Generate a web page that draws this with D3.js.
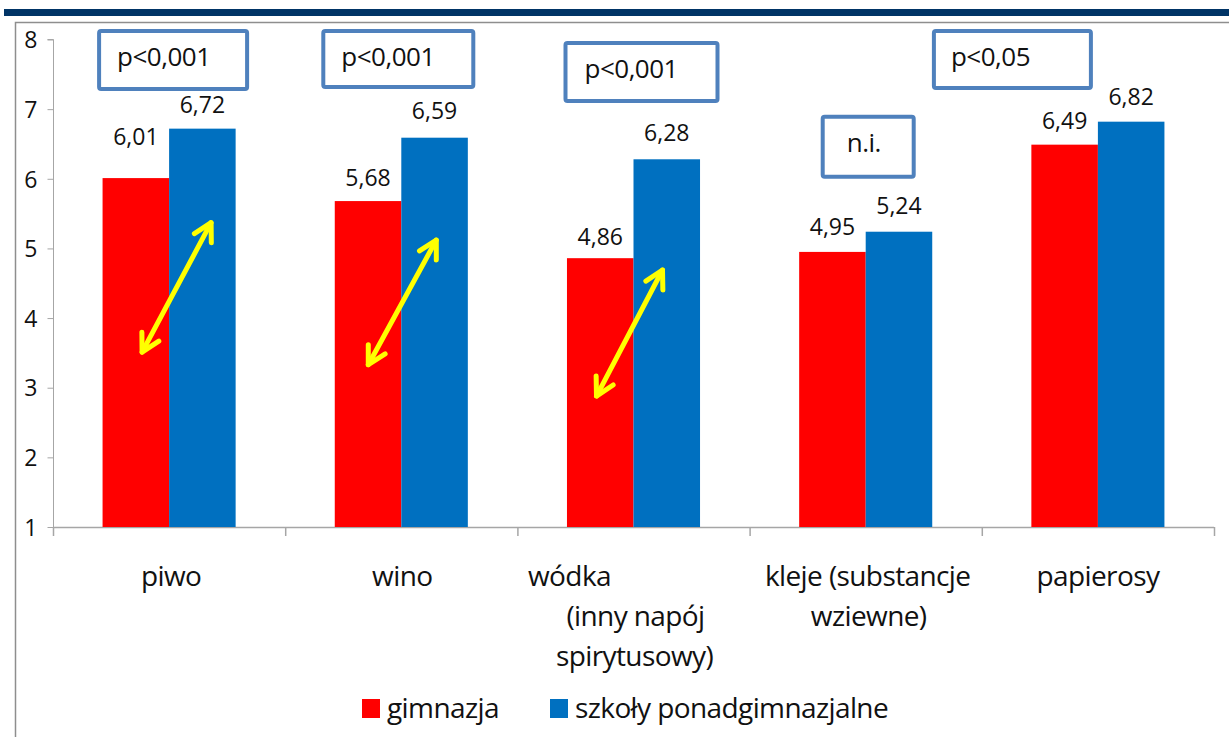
<!DOCTYPE html>
<html>
<head>
<meta charset="utf-8">
<script src="https://cdn.jsdelivr.net/npm/d3@7"></script>
<style>
  html, body { margin: 0; padding: 0; background: #fff; }
  svg { display: block; }
  text { font-family: "Open Sans", "Noto Sans", sans-serif; fill: #111; }
</style>
</head>
<body>
<svg id="chart" width="1229" height="737"></svg>
<script>
// --- data ---------------------------------------------------------------
const categories = ["piwo", "wino", "wódka", "kleje", "papierosy"];
const categoryLines = [
  ["piwo"],
  ["wino"],
  ["wódka", "(inny napój", "spirytusowy)"],
  ["kleje (substancje", "wziewne)"],
  ["papierosy"]
];
const seriesNames = ["gimnazja", "szkoły ponadgimnazjalne"];
const gimnazja = [6.01, 5.68, 4.86, 4.95, 6.49];
const szkoly = [6.72, 6.59, 6.28, 5.24, 6.82];
const yTicks = [1, 2, 3, 4, 5, 6, 7, 8];
const pValues = ["p<0,001", "p<0,001", "p<0,001", "n.i.", "p<0,05"];
const arrowCats = ["piwo", "wino", "wódka"];

// --- layout / style ----------------------------------------------------
const colors = ["#ff0000", "#0070c0"];
const fmt = v => d3.format(".2f")(v).replace(".", ",");
// vertical lift of value labels above bar tops
const labelLift = [[33, 16], [15, 19], [13, 18], [17, 18], [16, 17]];
// horizontal shifts of category label lines from band centre
const lineShift = [[2], [1], [-64, 2, 1], [2, 3], [0]];
// significance boxes: dx from band centre, width, top (in axis units), height
const boxLayout = [
  { dx: -72, w: 152, top: 8.15, h: 62, pad: 20 },
  { dx: -80, w: 154, top: 8.15, h: 60, pad: 20 },
  { dx: -70, w: 156, top: 7.98, h: 62, pad: 21 },
  { dx: -45, w: 95, top: 6.92, h: 64, pad: 26 },
  { dx: -166, w: 161, top: 8.15, h: 61, pad: 19 }
];
// double arrows: [dx, value] of both ends
const arrowLayout = [
  [[-27, 3.51], [42, 5.37]],
  [[-33, 3.33], [35, 5.12]],
  [[-37, 2.88], [29, 4.69]]
];

const svg = d3.select("#chart");

// header band and frame
svg.append("rect").attr("x", 4).attr("y", 9).attr("width", 1225).attr("height", 7).attr("fill", "#003466");
svg.append("path")
  .attr("d", "M15.5,737 V22.5 H1229")
  .attr("fill", "none").attr("stroke", "#8e8e8e").attr("stroke-width", 1.5);

// scales
const x = d3.scaleBand().domain(categories).range([53, 1214]);
const x1 = d3.scaleBand().domain(seriesNames).range([0, x.bandwidth()]).paddingOuter(0.745);
const y = d3.scaleLinear().domain([1, 8]).range([527, 39.5]);

// y axis
const yAxis = svg.append("g").attr("transform", "translate(53.5,0)")
  .call(d3.axisLeft(y).tickValues(yTicks).tickSize(6).tickPadding(10).tickFormat(d3.format("d")));
yAxis.select(".domain").attr("stroke", "#a6a6a6").attr("d", `M-6,${y(8)}H0V${y(1)}`);
yAxis.selectAll(".tick line").attr("stroke", "#a6a6a6");
yAxis.selectAll(".tick text").attr("font-size", 23).attr("fill", "#111")
  .attr("font-family", "'Open Sans', sans-serif").attr("dy", "0.36em");

// x axis with category boundary ticks
const xAxisG = svg.append("g");
xAxisG.append("line").attr("x1", 53).attr("x2", 1214).attr("y1", y(1) + 0.5).attr("y2", y(1) + 0.5)
  .attr("stroke", "#a6a6a6").attr("stroke-width", 1.5);
const bounds = categories.map(c => x(c)).concat([x.range()[1]]);
xAxisG.selectAll("line.bnd").data(bounds).join("line").attr("class", "bnd")
  .attr("x1", d => d + 0.5).attr("x2", d => d + 0.5)
  .attr("y1", y(1)).attr("y2", y(1) + 9)
  .attr("stroke", "#a6a6a6").attr("stroke-width", 1.5);

// bars
const rows = categories.map((c, i) => ({ cat: c, i, vals: [gimnazja[i], szkoly[i]] }));
const groups = svg.append("g").selectAll("g").data(rows).join("g")
  .attr("transform", d => `translate(${x(d.cat)},0)`);
groups.selectAll("rect").data(d => d.vals.map((v, s) => ({ v, s }))).join("rect")
  .attr("x", d => x1(seriesNames[d.s]))
  .attr("width", x1.bandwidth())
  .attr("y", d => y(d.v))
  .attr("height", d => y(1) - y(d.v))
  .attr("fill", d => colors[d.s]);

// value labels
groups.selectAll("text.val").data(d => d.vals.map((v, s) => ({ v, s, i: d.i }))).join("text")
  .attr("class", "val")
  .attr("x", d => x1(seriesNames[d.s]) + x1.bandwidth() / 2)
  .attr("y", d => y(d.v) - labelLift[d.i][d.s])
  .attr("text-anchor", "middle")
  .attr("font-size", 23)
  .text(d => fmt(d.v));

// category labels
rows.forEach((r, i) => {
  const cx = x(r.cat) + x.bandwidth() / 2;
  categoryLines[i].forEach((line, k) => {
    svg.append("text")
      .attr("x", cx + lineShift[i][k])
      .attr("y", 586 + k * 40)
      .attr("text-anchor", "middle")
      .attr("font-size", 28)
      .attr("letter-spacing", "-0.6px")
      .text(line);
  });
});

// significance boxes
rows.forEach((r, i) => {
  const b = boxLayout[i];
  const bx = x(r.cat) + x.bandwidth() / 2 + b.dx;
  const by = y(b.top);
  svg.append("rect").attr("x", bx + 2).attr("y", by + 2)
    .attr("width", b.w - 4).attr("height", b.h - 4).attr("rx", 2)
    .attr("fill", "#fff").attr("stroke", "#4f81bd").attr("stroke-width", 4);
  svg.append("text").attr("x", bx + b.pad).attr("y", by + 37)
    .attr("font-size", 26).attr("letter-spacing", "-0.5px").text(pValues[i]);
});

// yellow double arrows
const arrowG = svg.append("g").attr("stroke", "#ffff00").attr("stroke-width", 5)
  .attr("stroke-linecap", "round").attr("fill", "none");
arrowCats.forEach((c, i) => {
  const cx = x(c) + x.bandwidth() / 2;
  const [a, b] = arrowLayout[i];
  const p0 = [cx + a[0], y(a[1])], p1 = [cx + b[0], y(b[1])];
  arrowG.append("line").attr("x1", p0[0]).attr("y1", p0[1]).attr("x2", p1[0]).attr("y2", p1[1]);
  [[p0, p1], [p1, p0]].forEach(([tip, from]) => {
    const ang = Math.atan2(from[1] - tip[1], from[0] - tip[0]);
    const len = 20, spread = 0.5;
    const path = d3.path();
    path.moveTo(tip[0] + len * Math.cos(ang - spread), tip[1] + len * Math.sin(ang - spread));
    path.lineTo(tip[0], tip[1]);
    path.lineTo(tip[0] + len * Math.cos(ang + spread), tip[1] + len * Math.sin(ang + spread));
    arrowG.append("path").attr("d", path.toString()).attr("stroke-linejoin", "round");
  });
});

// legend
const legend = svg.append("g");
const legendX = [362, 550];
seriesNames.forEach((name, s) => {
  legend.append("rect").attr("x", legendX[s]).attr("y", 699).attr("width", 18).attr("height", 19)
    .attr("fill", colors[s]);
  legend.append("text").attr("x", legendX[s] + 25).attr("y", 718)
    .attr("font-size", 28).attr("letter-spacing", "-0.6px").text(name);
});
</script>
</body>
</html>
